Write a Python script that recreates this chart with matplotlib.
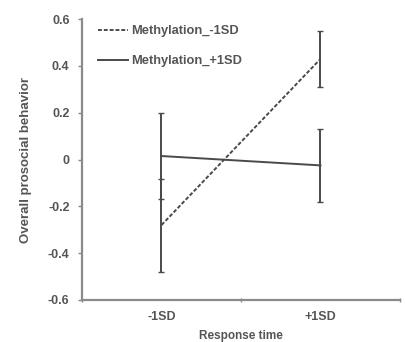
import matplotlib
matplotlib.use("Agg")
import matplotlib.pyplot as plt

categories = ["-1SD", "+1SD"]
meth_minus_mean = [-0.28, 0.43]
meth_minus_upper = [-0.085, 0.55]
meth_minus_lower = [-0.48, 0.31]
meth_plus_mean = [0.015, -0.025]
meth_plus_upper = [0.20, 0.13]
meth_plus_lower = [-0.17, -0.18]
yticks = [-0.6, -0.4, -0.2, 0, 0.2, 0.4, 0.6]
ytick_labels = ["-0.6", "-0.4", "-0.2", "0", "0.2", "0.4", "0.6"]

plt.rcParams['font.family'] = ['Liberation Sans', 'DejaVu Sans']
fig = plt.figure(figsize=(4.05, 3.42), dpi=100)
ax = fig.add_axes([0.2025, 0.123, 0.785, 0.821])

xs = [0.5, 1.5]
lc = "#4a4a4a"
err_m = [[m - l for m, l in zip(meth_minus_mean, meth_minus_lower)],
         [u - m for m, u in zip(meth_minus_mean, meth_minus_upper)]]
err_p = [[m - l for m, l in zip(meth_plus_mean, meth_plus_lower)],
         [u - m for m, u in zip(meth_plus_mean, meth_plus_upper)]]
ax.errorbar(xs, meth_minus_mean, yerr=err_m, fmt='none', ecolor=lc,
            capsize=2, elinewidth=1.4, capthick=1.0)
ax.errorbar(xs, meth_plus_mean, yerr=err_p, fmt='none', ecolor=lc,
            capsize=2, elinewidth=1.4, capthick=1.0)
ax.plot(xs, meth_minus_mean, color=lc, ls=(0, (2, 1)), lw=1.4, label="Methylation_-1SD")
ax.plot(xs, meth_plus_mean, color=lc, ls="-", lw=1.4, label="Methylation_+1SD")

ax.set_xlim(0, 2)
ax.set_ylim(-0.6, 0.6)
ax.set_yticks(yticks)
ax.set_yticklabels(ytick_labels)
ax.set_xticks([0, 1, 2])
ax.set_xticklabels([])
ax.set_xticks(xs, minor=True)
ax.set_xticklabels(categories, minor=True)
ax.tick_params(axis='x', which='minor', length=0, pad=8)
ax.tick_params(axis='x', which='major', length=3, direction='inout', color='#888888', width=1)
ax.tick_params(axis='y', length=3, direction='out', color='#888888', width=1, pad=6)
for lab in ax.get_yticklabels() + ax.get_xticklabels(minor=True):
    lab.set_fontweight('bold')
    lab.set_fontsize(9)
    lab.set_color('#555555')

for s in ['top', 'right']:
    ax.spines[s].set_visible(False)
for s in ['left', 'bottom']:
    ax.spines[s].set_color('#8a8a8a')
    ax.spines[s].set_linewidth(1.6)

ax.set_xlabel("Response time", fontsize=8.5, fontweight='bold', color='#555555', labelpad=5)
ax.set_ylabel("Overall prosocial behavior", fontsize=9.5, fontweight='bold', color='#555555', labelpad=11)

leg = ax.legend(loc='upper left', bbox_to_anchor=(0.015, 1.02), frameon=False,
                handlelength=2.3, handletextpad=0.2, labelspacing=1.4,
                prop={'weight': 'bold', 'size': 9.3})
for t in leg.get_texts():
    t.set_color('#555555')

fig.savefig("out.png", dpi=100, facecolor='white')
